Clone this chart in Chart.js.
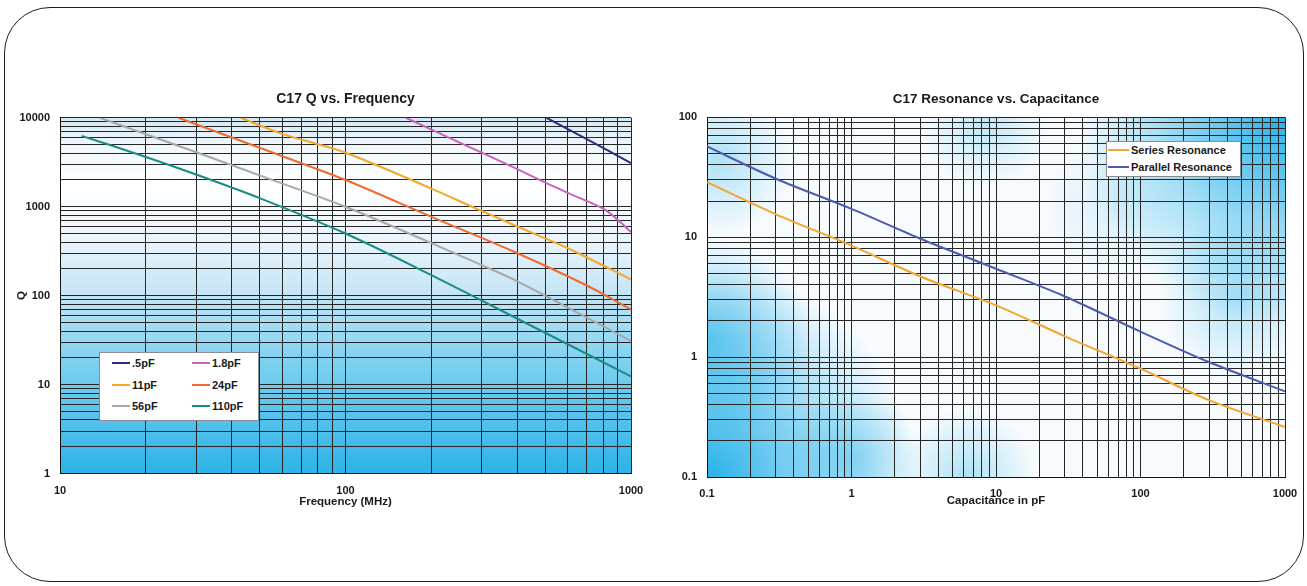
<!DOCTYPE html>
<html>
<head>
<meta charset="utf-8">
<script src="https://cdn.jsdelivr.net/npm/chart.js@4.4.1/dist/chart.umd.min.js"></script>
<style>
  html, body { margin: 0; padding: 0; background: #fff; }
  body { width: 1307px; height: 586px; position: relative; overflow: hidden; font-family: "Liberation Sans", Arial, sans-serif; }
  .frame { position: absolute; left: 4px; top: 7px; width: 1298px; height: 573px; border: 1.2px solid #1e1e1e; border-radius: 46px; }
  .box { position: absolute; top: 80px; height: 440px; }
  #leftBox { left: 0; width: 655px; }
  #rightBox { left: 655px; width: 652px; }
  .legend { position: absolute; background: #fff; border: 1px solid #8c8c8c; font-weight: bold; color: #1a1a1a; }
  .legend .item { position: absolute; display: flex; align-items: center; white-space: nowrap; }
  .legend .swatch { display: inline-block; height: 2px; margin-right: 2px; }
  #qLegend { left: 99px; top: 352px; width: 158px; height: 67px; font-size: 11px; }
  #resLegend { left: 1106px; top: 141px; width: 133px; height: 34px; font-size: 11px; }
</style>
</head>
<body>
<div class="frame"></div>
<div class="box" id="leftBox"><canvas id="qChart"></canvas></div>
<div class="box" id="rightBox"><canvas id="resChart"></canvas></div>
<div class="legend" id="qLegend"></div>
<div class="legend" id="resLegend"></div>

<script>
// ---- C17 Q vs. Frequency (left) ----
var freq05 = [506, 708, 1000];
var q05 = [10000, 5650, 3100];
var freq18 = [163, 250, 400, 506, 650, 822, 1000];
var q18 = [10000, 5300, 2650, 1840, 1280, 900, 520];
var freq11 = [43, 60, 100, 200, 294, 500, 627, 1000];
var q11 = [10000, 6600, 4050, 1600, 920, 440, 320, 152];
var freq24 = [26, 50, 100, 200, 400, 700, 1000];
var q24 = [10000, 4600, 2000, 770, 300, 130, 70];
var freq56 = [13.8, 30, 50, 100, 200, 300, 400, 1000];
var q56 = [10000, 4100, 2250, 1000, 390, 220, 145, 31];
var freq110 = [11.9, 20, 30, 50, 100, 200, 400, 1000];
var q110 = [6270, 3630, 2300, 1250, 500, 170, 55, 12.4];

var qSeriesNames = [".5pF", "1.8pF", "11pF", "24pF", "56pF", "110pF"];
var qSeriesColors = ["#2d2c80", "#c963bd", "#f5a72a", "#f06a30", "#a8a8a8", "#1b8c84"];
var freqTickLabels = [10, 100, 1000];
var qTickLabels = [1, 10, 100, 1000, 10000];

// ---- C17 Resonance vs. Capacitance (right) ----
var capPF = [0.1, 0.3, 1, 3, 10, 30, 100, 300, 1000];
var seriesRes = [28.7, 15.5, 8.5, 4.7, 2.7, 1.49, 0.80, 0.435, 0.261];
var parallelRes = [57, 30.7, 17.2, 9.7, 5.45, 3.2, 1.63, 0.905, 0.518];
var resSeriesNames = ["Series Resonance", "Parallel Resonance"];
var resSeriesColors = ["#f3a530", "#4b5bb0"];
var capTickLabels = [0.1, 1, 10, 100, 1000];
var resTickLabels = [0.1, 1, 10, 100];

var FONT = "'Liberation Sans', Arial, sans-serif";

function pts(xs, ys) {
    return xs.map(function (x, i) { return {x: x, y: ys[i]}; });
}

// every 1..9 step of each decade, for the grid lines
function logGrid(lo, hi) {
    var out = [];
    for (var e = lo; e < hi; e++) {
        for (var m = 1; m <= 9; m++) out.push(Number((m * Math.pow(10, e)).toPrecision(6)));
    }
    out.push(Number(Math.pow(10, hi).toPrecision(6)));
    return out;
}

function lineSet(label, color, data) {
    return {
        label: label, data: data, borderColor: color, backgroundColor: color,
        borderWidth: 2, pointRadius: 0, fill: false, tension: 0.3
    };
}

function axis(opts) {
    var horiz = opts.horiz;
    return {
        type: "logarithmic",
        position: horiz ? "bottom" : "left",
        min: opts.min, max: opts.max,
        afterBuildTicks: function (scale) {
            scale.ticks = opts.grid.map(function (v) { return {value: v}; });
        },
        afterFit: function (scale) {
            if (horiz) scale.height = opts.size; else scale.width = opts.size;
            scale.paddingLeft = 0; scale.paddingRight = 0;
            scale.paddingTop = 0; scale.paddingBottom = 0;
        },
        grid: {color: "#262626", lineWidth: 1, drawTicks: false},
        border: {display: true, color: "#111", width: 1},
        ticks: {
            autoSkip: false, maxRotation: 0, padding: opts.pad, color: "#1a1a1a",
            font: {family: FONT, size: 11, weight: "bold"},
            callback: function (v) { return opts.labels.indexOf(v) >= 0 ? String(v) : ""; }
        },
        title: opts.title ? {
            display: true, text: opts.title, color: "#1a1a1a",
            font: {family: FONT, size: 11.5, weight: "bold"},
            padding: opts.titlePad
        } : {display: false}
    };
}

function titleOpts(text, size) {
    return {
        display: true, text: text, fullSize: false, color: "#1a1a1a",
        font: {family: FONT, size: size, weight: "bold"},
        padding: {top: 11, bottom: 10}
    };
}

var qBackground = {
    id: "qBackground",
    beforeDraw: function (chart) {
        var a = chart.chartArea, ctx = chart.ctx;
        var g = ctx.createLinearGradient(0, a.top, 0, a.bottom);
        g.addColorStop(0, "#d3e8f3");
        g.addColorStop(0.08, "#f1f8fc");
        g.addColorStop(0.2, "#ffffff");
        g.addColorStop(0.36, "#e6f3fb");
        g.addColorStop(0.5, "#c2e4f5");
        g.addColorStop(0.7, "#7acfef");
        g.addColorStop(1, "#2eb3e8");
        ctx.save();
        ctx.fillStyle = g;
        ctx.fillRect(a.left, a.top, a.width, a.height);
        ctx.restore();
    }
};

var resBackground = {
    id: "resBackground",
    beforeDraw: function (chart) {
        var a = chart.chartArea, ctx = chart.ctx;
        ctx.save();
        ctx.beginPath();
        ctx.rect(a.left, a.top, a.width, a.height);
        ctx.clip();
        ctx.fillStyle = "#f7fbfe";
        ctx.fillRect(a.left, a.top, a.width, a.height);
        // blotchy blue patches: centre x, centre y (fractions), radius (fraction of width), strength
        var blobs = [
            [0.0, 1.0, 0.36, 1.0],
            [1.0, 0.0, 0.36, 1.0],
            [0.0, 0.62, 0.18, 0.65],
            [0.02, 0.12, 0.13, 0.35],
            [0.45, 1.0, 0.12, 0.35],
            [0.92, 0.5, 0.14, 0.35],
            [0.48, 0.02, 0.11, 0.28],
            [0.25, 0.95, 0.12, 0.4],
            [0.7, 0.25, 0.12, 0.15]
        ];
        blobs.forEach(function (b) {
            var cx = a.left + b[0] * a.width, cy = a.top + b[1] * a.height;
            var r = b[2] * a.width;
            var g = ctx.createRadialGradient(cx, cy, 0, cx, cy, r);
            g.addColorStop(0, "rgba(40,178,232," + b[3] + ")");
            g.addColorStop(1, "rgba(40,178,232,0)");
            ctx.fillStyle = g;
            ctx.fillRect(a.left, a.top, a.width, a.height);
        });
        ctx.restore();
    }
};

var qFreqs = [freq05, freq18, freq11, freq24, freq56, freq110];
var qVals = [q05, q18, q11, q24, q56, q110];

var qChart = new Chart(document.getElementById("qChart"), {
    type: "line",
    data: {
        datasets: qSeriesNames.map(function (n, i) {
            return lineSet(n, qSeriesColors[i], pts(qFreqs[i], qVals[i]));
        })
    },
    options: {
        responsive: true, maintainAspectRatio: false, animation: false,
        layout: {padding: {left: 0, right: 24, top: 0, bottom: 0}},
        plugins: {legend: {display: false}, tooltip: {enabled: false}, title: titleOpts("C17 Q vs. Frequency", 14)},
        scales: {
            x: axis({horiz: true, min: 10, max: 1000, grid: logGrid(1, 3), labels: freqTickLabels,
                size: 46.5, pad: 11, title: "Frequency (MHz)", titlePad: {top: 0, bottom: 11}}),
            y: axis({horiz: false, min: 1, max: 10000, grid: logGrid(0, 4), labels: qTickLabels,
                size: 60, pad: 10, title: "Q", titlePad: {top: 15, bottom: 0}})
        }
    },
    plugins: [qBackground]
});

var resChart = new Chart(document.getElementById("resChart"), {
    type: "line",
    data: {
        datasets: [
            lineSet(resSeriesNames[0], resSeriesColors[0], pts(capPF, seriesRes)),
            lineSet(resSeriesNames[1], resSeriesColors[1], pts(capPF, parallelRes))
        ]
    },
    options: {
        responsive: true, maintainAspectRatio: false, animation: false,
        layout: {padding: {left: 0, right: 22, top: 0, bottom: 0}},
        plugins: {legend: {display: false}, tooltip: {enabled: false}, title: titleOpts("C17 Resonance vs. Capacitance", 13.5)},
        scales: {
            x: axis({horiz: true, min: 0.1, max: 1000, grid: logGrid(-1, 3), labels: capTickLabels,
                size: 43, pad: 10, title: "Capacitance in pF", titlePad: {top: 0, bottom: 12}}),
            y: axis({horiz: false, min: 0.1, max: 100, grid: logGrid(-1, 2), labels: resTickLabels,
                size: 52, pad: 10})
        }
    },
    plugins: [resBackground]
});

// html legends built from the datasets
function buildLegend(el, chart, cols, colW, rowH, x0, y0, swatchW) {
    chart.data.datasets.forEach(function (ds, i) {
        var item = document.createElement("div");
        item.className = "item";
        item.style.left = (x0 + (i % cols) * colW) + "px";
        item.style.top = (y0 + Math.floor(i / cols) * rowH) + "px";
        item.style.height = "14px";
        var sw = document.createElement("span");
        sw.className = "swatch";
        sw.style.width = swatchW + "px";
        sw.style.background = ds.borderColor;
        item.appendChild(sw);
        item.appendChild(document.createTextNode(ds.label));
        el.appendChild(item);
    });
}
buildLegend(document.getElementById("qLegend"), qChart, 2, 80, 21.5, 12, 3, 18);
buildLegend(document.getElementById("resLegend"), resChart, 1, 0, 16.5, 1, 1, 21);
</script>
</body>
</html>
